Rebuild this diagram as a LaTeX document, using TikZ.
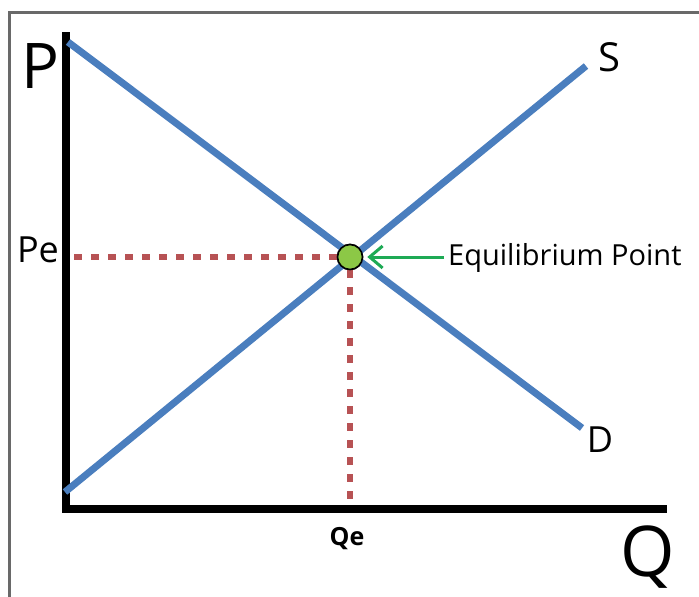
\documentclass[tikz,border=0pt]{standalone}
\usepackage{fontspec}
\setmainfont{Open Sans}
\usetikzlibrary{arrows.meta}

\definecolor{courbe}{RGB}{74,126,190}
\definecolor{pointille}{RGB}{183,82,84}
\definecolor{vertpoint}{RGB}{140,200,70}
\definecolor{vertfleche}{RGB}{30,170,85}
\definecolor{cadre}{RGB}{105,105,105}

\tikzset{
  axe/.style={line width=8pt},
  droite/.style={courbe, line width=7pt},
  tirets/.style={pointille, line width=6.5pt, dash pattern=on 7.5pt off 9.5pt},
  equilibre/.style={circle, draw=black, line width=1.6pt, fill=vertpoint, minimum size=25pt, inner sep=0pt},
  fleche/.style={vertfleche, line width=3pt, -{Straight Barb[length=13pt,width=22pt]}}
}

\begin{document}
\begin{tikzpicture}[x=1pt,y=-1pt]
\useasboundingbox (0,0) rectangle (699,597);

% Cadre
\draw[cadre, line width=3pt] (9,597) -- (9,12) -- (699,12);

% Points des courbes
\coordinate (O) at (66,509);
\coordinate (Ptop) at (66,32);
\coordinate (Qend) at (667,509);
\coordinate (D0) at (68,42);
\coordinate (D1) at (582,428);
\coordinate (S0) at (65,492);
\coordinate (S1) at (586,66);

\node[equilibre] (E) at (350,257) {};

% Pointilles vers les axes
\draw[tirets] (E.west) -- (E.west -| O);
\draw[tirets] (E.south) -- (E.south |- O);

% Axes
\draw[axe] (Ptop) -- (O) -- (Qend);

% Offre et demande
\draw[droite] (D0) -- (D1);
\draw[droite] (S0) -- (S1);

\node[equilibre] at (E) {};

% Etiquettes
\node[font=\fontsize{63}{63}\selectfont] (P) at (40,66) {P};
\node[font=\fontsize{70}{70}\selectfont, anchor=base] (Q) at (648,576) {Q};
\node[font=\fontsize{36}{36}\selectfont] (Pe) at (38,250) {Pe};
\node[font=\bfseries\fontsize{25}{25}\selectfont] (Qe) at (347,539) {Qe};
\node[font=\fontsize{40}{40}\selectfont] (S) at (609,57) {S};
\node[font=\fontsize{36}{36}\selectfont] (D) at (600,440) {D};
\node[font=\fontsize{29}{29}\selectfont, anchor=base west, inner sep=0pt] (eqlabel) at (448,265) {Equilibrium Point};

\draw[fleche, shorten <=4pt, shorten >=4pt] (eqlabel.west |- E) -- (E.east);

\end{tikzpicture}
\end{document}
